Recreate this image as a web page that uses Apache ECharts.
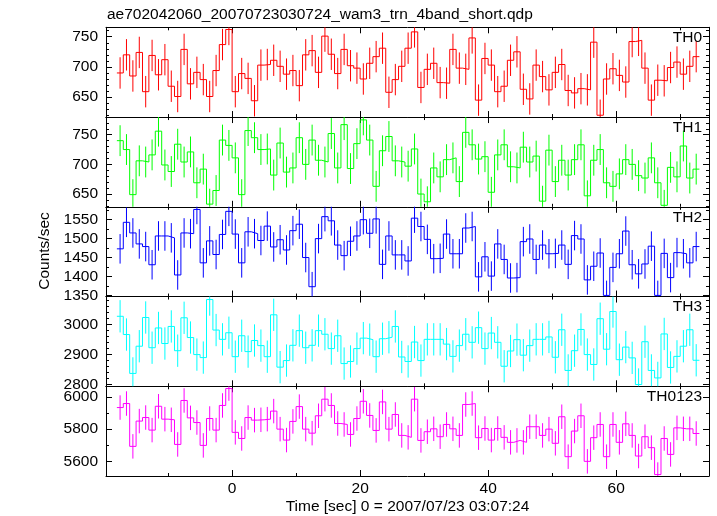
<!DOCTYPE html>
<html><head><meta charset="utf-8">
<script src="https://cdn.jsdelivr.net/npm/echarts@6/dist/echarts.min.js"></script>
<style>html,body{margin:0;padding:0;background:#fff}#c{width:717px;height:516px}</style>
</head><body><div id="c"></div>
<script>
const chartTitle = 'ae702042060_20070723030724_wam3_trn_4band_short.qdp';
const xAxisName = 'Time [sec] 0 = 2007/07/23 03:07:24';
const yAxisName = 'Counts/sec';
const binStart = -18;
const binWidth = 1;
const panelNames = ['TH0', 'TH1', 'TH2', 'TH3', 'TH0123'];

const th0 = [690,720,685,724,659,719,687,712,668,651,729,672,691,679,651,694,737,762,659,689,
  681,644,703,704,711,701,688,694,669,720,727,691,751,721,689,729,702,698,680,706,
  717,731,658,679,701,731,758,666,696,706,674,673,729,698,696,748,645,714,703,659,
  668,711,725,663,647,703,684,662,691,704,661,657,664,662,741,620,680,697,686,675,
  742,744,698,645,678,677,699,708,688,701,717];
const th1 = [740,725,649,706,704,716,756,699,688,734,704,721,669,692,633,656,741,732,711,649,
  757,745,725,726,682,736,687,694,745,700,741,707,704,752,694,767,693,735,775,741,
  663,723,747,706,704,697,726,650,637,694,679,708,711,671,754,733,709,713,653,716,
  733,696,694,729,704,714,638,724,671,707,682,708,733,647,707,725,669,663,684,708,
  700,681,677,711,669,631,695,679,731,677,692];
const th2 = [1473,1543,1515,1486,1479,1431,1507,1507,1502,1404,1515,1513,1577,1436,1494,1458,1511,1572,1512,1436,
  1518,1513,1495,1533,1478,1497,1470,1521,1538,1450,1373,1500,1558,1547,1483,1455,1493,1507,1550,1514,
  1552,1432,1507,1457,1457,1441,1554,1532,1498,1447,1448,1512,1460,1460,1528,1532,1399,1452,1401,1486,
  1445,1396,1397,1492,1499,1445,1483,1460,1461,1483,1432,1508,1499,1391,1427,1462,1350,1424,1460,1520,
  1431,1407,1433,1480,1350,1461,1397,1463,1460,1436,1479];
const th3 = [3028,2967,2837,2928,3024,2923,2989,2937,2994,2913,3023,2957,2900,2890,3084,2982,2951,2973,2893,2963,
  2910,2947,2930,2893,3033,2858,2880,2931,2980,2923,2931,2980,2968,2920,2963,2870,2877,2920,2955,2950,
  2893,2953,2958,2994,2892,2877,2942,2880,2951,2951,2951,2935,2894,2930,2968,2941,2990,2920,2972,2941,
  2861,2912,2950,2898,2930,2951,2951,2959,2891,2983,2847,2913,2984,2900,2867,3020,2918,3044,2883,2925,
  2889,2800,2943,2847,2822,2969,2857,2894,2928,2983,2881];
const th0123 = [5934,5959,5693,5850,5872,5794,5942,5862,5858,5705,5978,5870,5841,5699,5866,5794,5947,6052,5780,5742,
  5872,5856,5858,5862,5912,5800,5732,5848,5940,5800,5775,5883,5986,5947,5835,5829,5767,5866,5973,5885,
  5792,5969,5800,5891,5761,5749,5986,5730,5784,5802,5753,5829,5802,5761,5953,5959,5747,5804,5732,5804,
  5749,5718,5730,5718,5815,5815,5761,5800,5712,5877,5629,5788,5883,5600,5747,5829,5629,5829,5718,5833,
  5761,5633,5753,5685,5518,5742,5643,5808,5802,5802,5773];

const seriesValues = [th0, th1, th2, th3, th0123];
const errHalf = [26, 26, 39, 54, 76];
const yMin = [617, 628.5, 1347, 2794, 5509];
const yMax = [765.6, 779.8, 1584, 3094, 6066];
const xMin = -19.7, xMax = 74.5;

const colors = ['#ff0000', '#00ff00', '#0000ff', '#00ffff', '#ff00ff'];
const ySplit = [3, 3, 5, 3, 3];
const yMinorSplit = [5, 5, 2, 5, 2];
const FONT = 'Liberation Sans';
const FS = 15.5;
const gridLeft = 106, gridRight = 709, gridTop = 27.3, panelH = 89.75;

const chart = echarts.init(document.getElementById('c'), null, {renderer: 'canvas'});
const grids = [], xAxes = [], yAxes = [], series = [], graphics = [];
const plain = function (v) { return String(v); };

for (let i = 0; i < 5; i++) {
  const top = gridTop + panelH * i;
  grids.push({left: gridLeft, top: top, width: gridRight - gridLeft, height: panelH, containLabel: false});
  const last = i === 4;
  ['bottom', 'top'].forEach((pos, k) => {
    xAxes.push({
      type: 'value', gridIndex: i, position: pos, min: xMin, max: xMax, splitNumber: 5,
      axisLine: {show: true, onZero: false, lineStyle: {color: '#000', width: 1}},
      axisTick: {show: true, inside: true, length: 6, lineStyle: {color: '#000', width: 1}},
      minorTick: {show: true, splitNumber: 2, length: 3, lineStyle: {color: '#000', width: 1}},
      splitLine: {show: false}, minorSplitLine: {show: false},
      axisLabel: {show: last && k === 0, showMinLabel: false, showMaxLabel: false, color: '#000',
        fontSize: FS, fontFamily: FONT, margin: 5, formatter: plain},
      name: (last && k === 0) ? xAxisName : '', nameLocation: 'middle', nameGap: 23,
      nameTextStyle: {color: '#000', fontSize: FS, fontFamily: FONT}
    });
  });
  ['left', 'right'].forEach((pos, k) => {
    yAxes.push({
      type: 'value', gridIndex: i, position: pos, min: yMin[i], max: yMax[i], splitNumber: ySplit[i],
      axisLine: {show: true, onZero: false, lineStyle: {color: '#000', width: 1}},
      axisTick: {show: true, inside: true, length: 6, lineStyle: {color: '#000', width: 1}},
      minorTick: {show: true, splitNumber: yMinorSplit[i], length: 3, lineStyle: {color: '#000', width: 1}},
      splitLine: {show: false}, minorSplitLine: {show: false},
      axisLabel: {show: k === 0, showMinLabel: false, showMaxLabel: false, color: '#000',
        fontSize: FS, fontFamily: FONT, margin: 8, formatter: plain}
    });
  });
  const vals = seriesValues[i];
  const stepData = vals.map((v, k) => [binStart + k * binWidth, v]);
  stepData.push([binStart + vals.length * binWidth, vals[vals.length - 1]]);
  series.push({
    type: 'line', xAxisIndex: 2 * i, yAxisIndex: 2 * i, step: 'end', symbol: 'none', showSymbol: false,
    lineStyle: {color: colors[i], width: 1}, data: stepData, animation: false, silent: true, clip: true, z: 3
  });
  const col = colors[i];
  series.push({
    type: 'custom', xAxisIndex: 2 * i, yAxisIndex: 2 * i, clip: true, animation: false, silent: true, z: 2,
    data: vals.map((v, k) => [binStart + (k + 0.5) * binWidth, v, errHalf[i]]),
    encode: {x: 0, y: 1},
    renderItem: function (params, api) {
      const x = api.value(0), y = api.value(1), e = api.value(2);
      const p1 = api.coord([x, y - e]);
      const p2 = api.coord([x, y + e]);
      return {type: 'line', shape: {x1: p1[0], y1: p1[1], x2: p2[0], y2: p2[1]},
        style: {stroke: col, lineWidth: 1}};
    }
  });
  graphics.push({type: 'text', x: 702, y: top + 10.5, z: 10,
    style: {text: panelNames[i], fill: '#000', font: FS + 'px "' + FONT + '"', textAlign: 'right', textVerticalAlign: 'middle'}});
}

graphics.push({type: 'text', x: 107, y: 15, style: {text: chartTitle, fill: '#000', font: FS + 'px "' + FONT + '"', textAlign: 'left', textVerticalAlign: 'middle'}});
graphics.push({type: 'text', x: 45, y: 251, rotation: Math.PI / 2,
  style: {text: yAxisName, fill: '#000', font: FS + 'px "' + FONT + '"', textAlign: 'center', textVerticalAlign: 'middle'}});

chart.setOption({
  animation: false,
  backgroundColor: '#fff',
  grid: grids, xAxis: xAxes, yAxis: yAxes, series: series, graphic: graphics
});
</script></body></html>
